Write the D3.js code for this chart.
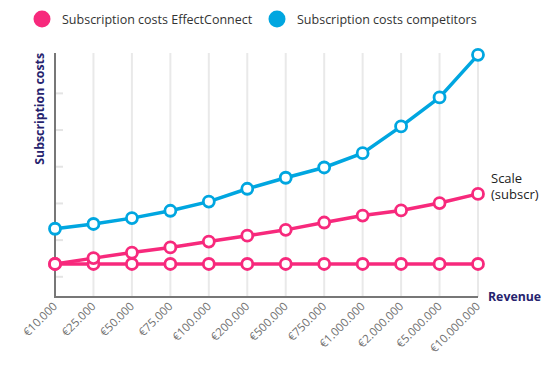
<!DOCTYPE html>
<html>
<head>
<meta charset="utf-8">
<script src="https://cdn.jsdelivr.net/npm/d3@7"></script>
<style>
  body { margin: 0; background: #fff; }
  svg { display: block; font-family: "Open Sans", "Noto Sans", sans-serif; }
</style>
</head>
<body>
<svg id="chart" width="557" height="372"></svg>
<script>
// revenue brackets on the x axis
var revenue = ['€10.000', '€25.000', '€50.000', '€75.000', '€100.000', '€200.000',
  '€500.000', '€750.000', '€1.000.000', '€2.000.000', '€5.000.000', '€10.000.000']
// subscription costs (relative units)
var competitors = [1.31, 1.44, 1.60, 1.80, 2.05, 2.40, 2.70, 2.98, 3.37, 4.10, 4.89, 6.05]
var effectScale = [0.35, 0.51, 0.66, 0.80, 0.96, 1.12, 1.28, 1.48, 1.67, 1.81, 2.01, 2.26]
var effectFlat = [0.35, 0.35, 0.35, 0.35, 0.35, 0.35, 0.35, 0.35, 0.35, 0.35, 0.35, 0.35]
var yTicks = [0, 1, 2, 3, 4, 5]

var pink = '#f7297c', blue = '#00a6e0', navy = '#26236e'

var svg = d3.select('#chart')
var x = d3.scalePoint().domain(revenue).range([55, 478])
var y = d3.scaleLinear().domain([-0.55, 6.1]).range([297, 53])

// vertical grid
svg.append('g').selectAll('line')
  .data(revenue.slice(1))
  .enter().append('line')
  .attr('x1', function (d) { return x(d) })
  .attr('x2', function (d) { return x(d) })
  .attr('y1', y.range()[1])
  .attr('y2', y.range()[0])
  .attr('stroke', '#e9e9e9')
  .attr('stroke-width', 2)

// y ticks (short marks, no labels)
svg.append('g').selectAll('line')
  .data(yTicks)
  .enter().append('line')
  .attr('x1', 56).attr('x2', 63)
  .attr('y1', function (d) { return y(d) })
  .attr('y2', function (d) { return y(d) })
  .attr('stroke', '#e4e4e4')
  .attr('stroke-width', 2)

// axes
svg.append('path')
  .attr('d', 'M' + x.range()[0] + ',' + y.range()[1] + 'V' + y.range()[0] + 'H' + x.range()[1])
  .attr('fill', 'none')
  .attr('stroke', '#777')
  .attr('stroke-width', 2)

// x labels
svg.append('g').selectAll('text')
  .data(revenue)
  .enter().append('text')
  .attr('transform', function (d) { return 'translate(' + (x(d) + 3) + ',307) rotate(-45)' })
  .attr('text-anchor', 'end')
  .attr('font-size', 11.5)
  .attr('fill', '#707070')
  .text(function (d) { return d })

// axis titles
svg.append('text')
  .attr('transform', 'translate(44,53) rotate(-90)')
  .attr('text-anchor', 'end')
  .attr('font-size', 12.3)
  .attr('font-weight', 'bold')
  .attr('fill', navy)
  .text('Subscription costs')

svg.append('text')
  .attr('x', 488).attr('y', 301)
  .attr('font-size', 12.3)
  .attr('font-weight', 'bold')
  .attr('fill', navy)
  .text('Revenue')

// series
var series = [
  {values: effectFlat, color: pink},
  {values: effectScale, color: pink},
  {values: competitors, color: blue}
]
var line = d3.line()
  .x(function (d, i) { return x(revenue[i]) })
  .y(function (d) { return y(d) })

series.forEach(function (s) {
  svg.append('path')
    .datum(s.values)
    .attr('d', line)
    .attr('fill', 'none')
    .attr('stroke', s.color)
    .attr('stroke-width', 3.5)
})
series.forEach(function (s) {
  svg.append('g').selectAll('circle')
    .data(s.values)
    .enter().append('circle')
    .attr('cx', function (d, i) { return x(revenue[i]) })
    .attr('cy', function (d) { return y(d) })
    .attr('r', 5.5)
    .attr('fill', '#fff')
    .attr('stroke', s.color)
    .attr('stroke-width', 2.8)
})

// end label for the scaling series
var lbl = svg.append('text')
  .attr('x', 491).attr('y', 183)
  .attr('font-size', 13)
  .attr('fill', '#222')
;['Scale', '(subscr)'].forEach(function (t, i) {
  lbl.append('tspan').attr('x', 491).attr('dy', i ? '1.25em' : 0).text(t)
})

// legend
var legend = [
  {name: 'Subscription costs EffectConnect', color: pink, x: 42},
  {name: 'Subscription costs competitors', color: blue, x: 277}
]
var lg = svg.append('g').selectAll('g')
  .data(legend)
  .enter().append('g')
  .attr('transform', function (d) { return 'translate(' + d.x + ',19)' })
lg.append('circle').attr('r', 8.5).attr('fill', function (d) { return d.color })
lg.append('text')
  .attr('x', 20).attr('y', 5)
  .attr('font-size', 12.5)
  .attr('fill', '#333')
  .text(function (d) { return d.name })
</script>
</body>
</html>
